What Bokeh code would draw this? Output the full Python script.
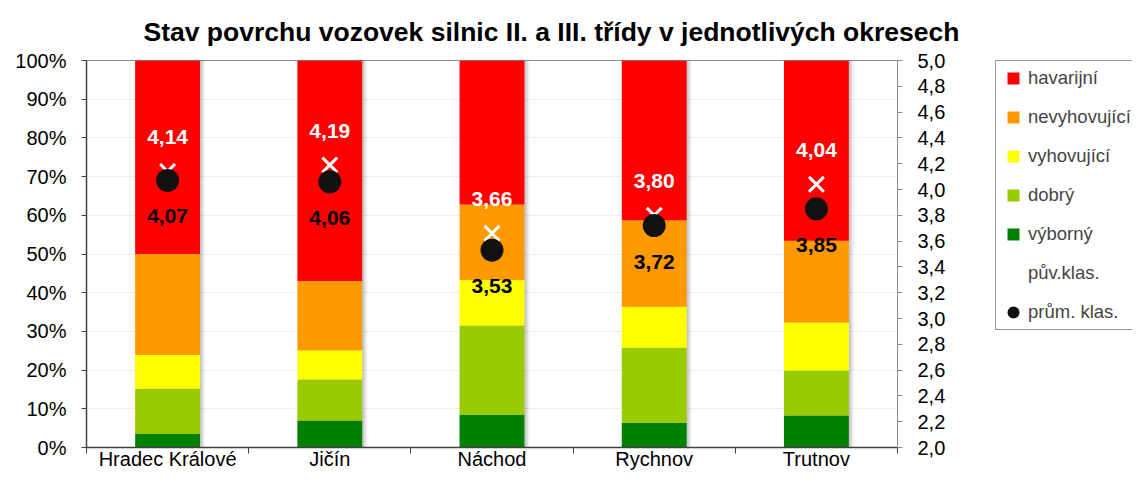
import numpy as np
from bokeh.plotting import figure
from bokeh.layouts import row
from bokeh.models import (ColumnDataSource, Range1d, LinearAxis, FixedTicker,
                          CustomJSTickFormatter, Legend, LegendItem)
from bokeh.core.properties import value
from bokeh.transform import dodge
from bokeh.embed import file_html
from bokeh.resources import INLINE

# ---- data ----
categories = ["Hradec Králové", "Jičín", "Náchod", "Rychnov", "Trutnov"]
vyborny = [3.5, 7.0, 8.4, 6.4, 8.3]
dobry = [11.7, 10.6, 23.1, 19.4, 11.6]
vyhovujici = [8.7, 7.5, 11.8, 10.6, 12.4]
nevyhovujici = [26.1, 17.9, 19.5, 22.3, 21.1]
havarijni = [50.0, 57.0, 37.2, 41.3, 46.6]
puv_klas = [4.14, 4.19, 3.66, 3.80, 4.04]
prum_klas = [4.07, 4.06, 3.53, 3.72, 3.85]

series_names = ["výborný", "dobrý", "vyhovující", "nevyhovující", "havarijní"]
colors = ["#008000", "#99CC00", "#FFFF00", "#FF9900", "#FF0000"]

FONT = "Liberation Sans"

xpos = [i + 0.5 for i in range(len(categories))]
src = ColumnDataSource(dict(
    x=xpos,
    výborný=vyborny, dobrý=dobry, vyhovující=vyhovujici,
    nevyhovující=nevyhovujici, havarijní=havarijni,
    total=[a + b + c + d + e for a, b, c, d, e in zip(vyborny, dobry, vyhovujici, nevyhovujici, havarijni)],
    puv=puv_klas, prum=prum_klas,
    puv_lbl=[f"{v:.2f}".replace(".", ",") for v in puv_klas],
    prum_lbl=[f"{v:.2f}".replace(".", ",") for v in prum_klas],
))

p = figure(width=995, height=472, x_range=Range1d(0, len(categories)),
           y_range=Range1d(0, 100), output_backend="svg", toolbar_location=None,
           min_border_left=86, min_border_right=98, min_border_top=60,
           min_border_bottom=21)
p.extra_y_ranges = {"klas": Range1d(2, 5)}

p.title.text = "Stav povrchu vozovek silnic II. a III. třídy v jednotlivých okresech"
p.title.text_font = FONT
p.title.text_font_size = "26.5px"
p.title.text_font_style = "bold"
p.title.text_color = "black"
p.title.align = "left"
p.title.offset = 57
p.title.standoff = 28

p.outline_line_color = "#8c8c8c"
p.background_fill_color = "white"
p.border_fill_color = "white"

# grid
p.xgrid.visible = False
p.ygrid.ticker = FixedTicker(ticks=list(range(0, 101, 10)))
p.ygrid.grid_line_color = "#eeeeee"

# soft shadow
for off, a in [(0.012, 0.10), (0.022, 0.07), (0.032, 0.05)]:
    p.vbar(x=dodge("x", off, range=p.x_range), bottom=0, top="total", width=0.4,
           fill_color="#000000", fill_alpha=a, line_color=None, source=src)

bars = p.vbar_stack(series_names, x="x", width=0.4, color=colors,
                    line_color=None, source=src)

p.scatter("x", "puv", marker="x", size=21, line_color="white",
          line_width=3, y_range_name="klas", source=src)
p.scatter("x", "prum", marker="circle", size=23, fill_color="#111111",
          line_color=None, y_range_name="klas", source=src)

p.text("x", "puv", text="puv_lbl", y_offset=-34, text_color="white",
       text_font=value(FONT), text_font_style="bold", text_font_size="21px",
       text_align="center", text_baseline="middle", y_range_name="klas", source=src)
p.text("x", "prum", text="prum_lbl", y_offset=36, text_color="black",
       text_font=value(FONT), text_font_style="bold", text_font_size="21px",
       text_align="center", text_baseline="middle", y_range_name="klas", source=src)

# left axis
yax = p.yaxis[0]
yax.ticker = FixedTicker(ticks=list(range(0, 101, 10)))
yax.formatter = CustomJSTickFormatter(code="return tick + '%';")
yax.axis_line_color = "#404040"
yax.axis_line_width = 1.5
yax.major_tick_line_color = "#404040"
yax.major_tick_out = 5
yax.major_tick_in = 0
yax.minor_tick_line_color = None
yax.major_label_text_font = FONT
yax.major_label_text_font_size = "20px"
yax.major_label_text_color = "black"
yax.major_label_standoff = 15

# right axis
rax = LinearAxis(y_range_name="klas",
                 ticker=FixedTicker(ticks=[round(2 + 0.2 * i, 1) for i in range(16)]),
                 formatter=CustomJSTickFormatter(code="return tick.toFixed(1).replace('.', ',');"))
rax.axis_line_color = "#8c8c8c"
rax.major_tick_line_color = "#8c8c8c"
rax.major_tick_out = 5
rax.major_tick_in = 0
rax.minor_tick_line_color = None
rax.major_label_text_font = FONT
rax.major_label_text_font_size = "20px"
rax.major_label_text_color = "black"
rax.major_label_standoff = 15
p.add_layout(rax, "right")

# bottom axis (boundary ticks drawn outward via negative inner length)
xax = p.xaxis[0]
xax.ticker = FixedTicker(ticks=xpos, minor_ticks=list(range(len(categories) + 1)))
xax.formatter = CustomJSTickFormatter(args=dict(cats=categories),
                                      code="return cats[Math.floor(tick)];")
xax.axis_line_color = "#404040"
xax.axis_line_width = 1.5
xax.major_tick_line_color = None
xax.major_tick_out = 0
xax.major_tick_in = 0
xax.minor_tick_line_color = "#404040"
xax.minor_tick_out = 0
xax.minor_tick_in = -6
xax.major_label_text_font = FONT
xax.major_label_text_font_size = "20px"
xax.major_label_text_color = "black"
xax.major_label_standoff = 0

# ---- legend panel (separate narrow figure) ----
lg = figure(width=137, height=472, x_range=Range1d(0, 1), y_range=Range1d(0, 1),
            output_backend="svg", toolbar_location=None, x_axis_type=None,
            y_axis_type=None, min_border=0, min_border_left=0, min_border_right=0,
            min_border_top=0, min_border_bottom=0)
lg.outline_line_color = None
lg.grid.visible = False
lg.background_fill_color = "white"
lg.border_fill_color = "white"

hidden = dict(x=[0.5], y=[np.nan])
leg_renderers = []
for name, c in zip(series_names, colors):
    r = lg.scatter(x=hidden["x"], y=hidden["y"], marker="square", fill_color=c, line_color=None)
    leg_renderers.append((name, r))
r_puv = lg.scatter(x=hidden["x"], y=hidden["y"], marker="x", line_color="white", line_width=2)
r_prum = lg.scatter(x=hidden["x"], y=hidden["y"], marker="circle", fill_color="#111111", line_color=None)

items = [LegendItem(label=n, renderers=[r]) for n, r in reversed(leg_renderers)]
items.append(LegendItem(label="pův.klas.", renderers=[r_puv]))
items.append(LegendItem(label="prům. klas.", renderers=[r_prum]))
legend = Legend(items=items, location="top_left", orientation="vertical",
                label_text_font=FONT, label_text_font_size="18.5px",
                label_height=20, glyph_height=30, glyph_width=30,
                label_standoff=0, spacing=9, padding=2, margin=0,
                label_width=122,
                border_line_color="#333333", border_line_width=1,
                background_fill_color="white", background_fill_alpha=1.0)
lg.add_layout(legend, "center")

layout = row(p, lg)
open("out.html", "w").write(file_html(layout, INLINE))
